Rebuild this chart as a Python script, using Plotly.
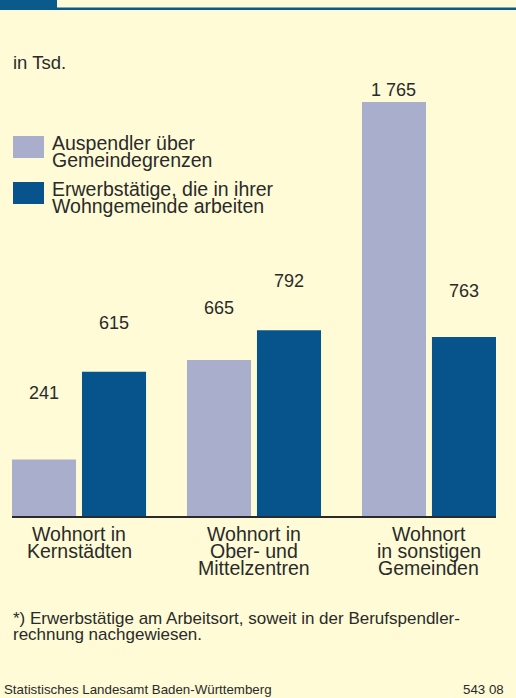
import plotly.graph_objects as go

# ── Data ───────────────────────────────────────────────────────────────────────
CATEGORIES = [
    "Wohnort in<br>Kernstädten",
    "Wohnort in<br>Ober- und<br>Mittelzentren",
    "Wohnort<br>in sonstigen<br>Gemeinden",
]
SERIES = ["Auspendler über<br>Gemeindegrenzen",
          "Erwerbstätige, die in ihrer<br>Wohngemeinde arbeiten"]
AUSPENDLER = [241, 665, 1765]
ERWERBSTAETIGE = [615, 792, 763]

UNIT = "in Tsd."
FOOTNOTE = ["*) Erwerbstätige am Arbeitsort, soweit in der Berufspendler-",
            "rechnung nachgewiesen."]
SOURCE = "Statistisches Landesamt Baden-Württemberg"
CODE = "543 08"

# ── Style ──────────────────────────────────────────────────────────────────────
W, H = 516, 698
BG = "#FEFBD6"
LIGHT = "#A8AECB"
DARK = "#06548B"
HEAD = "#0B5A8C"
TXT = "#2A2A2A"
FONT = "Liberation Sans, Arial, sans-serif"

# plot area in pixels
L, R, T, B = 12, 496, 102, 516
# pixel lift of value labels above bar tops
LIFT_A = [66, 52, 12]
LIFT_E = [49, 49, 46]


def px(x):
    return (x - L) / (R - L)


def py(y):
    return (B - y) / (B - T)


xs = list(range(len(CATEGORIES)))
half = 0.383
bw = 0.366

fig = go.Figure()
fig.add_trace(go.Bar(x=xs, y=AUSPENDLER, width=bw, offset=-half,
                     marker=dict(color=LIGHT, line=dict(width=0)),
                     showlegend=False, hoverinfo="y"))
fig.add_trace(go.Bar(x=xs, y=ERWERBSTAETIGE, width=bw, offset=half - bw,
                     marker=dict(color=DARK, line=dict(width=0)),
                     showlegend=False, hoverinfo="y"))

ann = []
fmt = lambda v: f"{v:,}".replace(",", " ")
for i in xs:
    ann.append(dict(x=i - half + bw / 2, y=AUSPENDLER[i], xref="x", yref="y",
                    text=fmt(AUSPENDLER[i]), yshift=LIFT_A[i], showarrow=False,
                    yanchor="middle", font=dict(size=18, color=TXT)))
    ann.append(dict(x=i + half - bw / 2, y=ERWERBSTAETIGE[i], xref="x", yref="y",
                    text=fmt(ERWERBSTAETIGE[i]), yshift=LIFT_E[i], showarrow=False,
                    yanchor="middle", font=dict(size=18, color=TXT)))
    # category labels, line by line for tight leading
    for k, line in enumerate(CATEGORIES[i].split("<br>")):
        ann.append(dict(x=i, y=py(534 + 17 * k), xref="x", yref="paper",
                        text=line, showarrow=False, yanchor="middle",
                        font=dict(size=19.5, color=TXT)))

# unit
ann.append(dict(x=px(11), y=py(62), xref="paper", yref="paper", text=UNIT,
                showarrow=False, xanchor="left", yanchor="middle",
                font=dict(size=18.5, color=TXT)))

# legend
shapes = []
for s, (name, col, top) in enumerate(zip(SERIES, [LIGHT, DARK], [136, 182])):
    shapes.append(dict(type="rect", xref="paper", yref="paper",
                       x0=px(13), x1=px(44), y0=py(top), y1=py(top + 22),
                       fillcolor=col, line=dict(width=0)))
    for k, line in enumerate(name.split("<br>")):
        ann.append(dict(x=px(50), y=py(top + 7 + 17 * k), xref="paper", yref="paper",
                        text=line, showarrow=False, xanchor="left", yanchor="middle",
                        font=dict(size=19.5, color=TXT)))

# footnote and source
for k, line in enumerate(FOOTNOTE):
    ann.append(dict(x=px(11), y=py(618 + 16 * k), xref="paper", yref="paper",
                    text=line, showarrow=False, xanchor="left", yanchor="middle",
                    font=dict(size=17, color=TXT)))
ann.append(dict(x=px(2), y=py(689), xref="paper", yref="paper", text=SOURCE,
                showarrow=False, xanchor="left", yanchor="middle",
                font=dict(size=13.3, color=TXT)))
ann.append(dict(x=px(506), y=py(689), xref="paper", yref="paper", text=CODE,
                showarrow=False, xanchor="right", yanchor="middle",
                font=dict(size=13.3, color=TXT)))

# header bar
shapes.append(dict(type="rect", xref="paper", yref="paper",
                   x0=px(0), x1=px(W), y0=py(7.5), y1=py(10),
                   fillcolor=HEAD, line=dict(width=0)))
shapes.append(dict(type="rect", xref="paper", yref="paper",
                   x0=px(0), x1=px(57), y0=py(0), y1=py(8),
                   fillcolor=HEAD, line=dict(width=0)))

fig.update_layout(
    width=W, height=H,
    margin=dict(l=L, r=W - R, t=T, b=H - B, pad=0),
    paper_bgcolor=BG, plot_bgcolor=BG,
    font=dict(family=FONT, color=TXT),
    barmode="overlay",
    xaxis=dict(range=[-half, len(xs) - 1 + half], showticklabels=False,
               showgrid=False, zeroline=False, showline=True,
               linecolor="#2A2A2A", linewidth=2, ticks=""),
    yaxis=dict(range=[0, max(AUSPENDLER + ERWERBSTAETIGE)], visible=False,
               showgrid=False, zeroline=False),
    annotations=ann, shapes=shapes,
)

fig.write_html("out.html", config={"displayModeBar": False},
               post_script="document.body.style.margin='0';")
